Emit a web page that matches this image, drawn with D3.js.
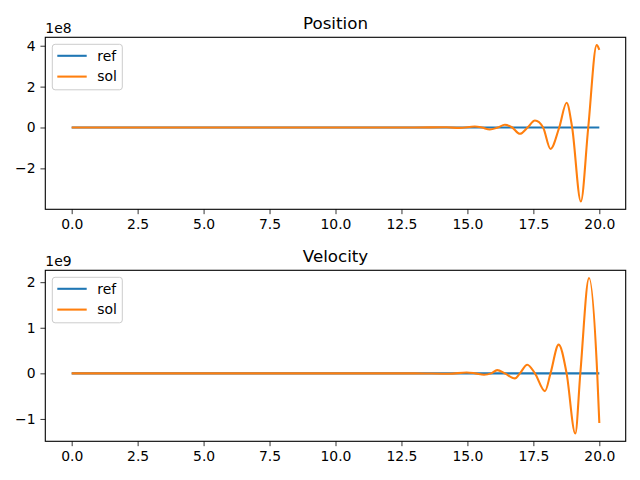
<!DOCTYPE html>
<html>
<head>
<meta charset="utf-8">
<script src="https://cdn.jsdelivr.net/npm/d3@7"></script>
<style>
  body { margin: 0; background: #fff; }
  svg { display: block; font-family: "DejaVu Sans", sans-serif; }
</style>
</head>
<body>
<svg id="chart" width="640" height="480"></svg>
<script>
// Reference solution (flat zero)
const refTime = [0, 5, 10, 15, 20]
const refPosition = [0, 0, 0, 0, 0]
const refVelocity = [0, 0, 0, 0, 0]

// Numerical solution, position
const solPosTime = [0, 5, 10, 13, 14.2, 14.7, 15.28, 15.55, 15.85, 16.15, 16.42, 16.7, 16.99,
  17.28, 17.56, 17.87, 18.15, 18.48, 18.76, 18.97, 19.3, 19.58, 19.9, 20]
const solPosition = [0, 0, 0, 0, 0.01e8, -0.02e8, 0.05e8, 0, -0.1e8, 0, 0.13e8, 0, -0.31e8,
  0, 0.34e8, 0, -1.05e8, 0, 1.21e8, 0, -3.62e8, 0, 4.03e8, 3.8e8]

// Numerical solution, velocity
const solVelTime = [0, 5, 10, 13, 14.3, 14.97, 15.3, 15.63, 15.9, 16.13, 16.42, 16.8, 16.99,
  17.27, 17.56, 17.94, 18.15, 18.46, 18.76, 19.09, 19.28, 19.61, 19.92, 20]
const solVelocity = [0, 0, 0, 0, -0.01e9, 0.02e9, 0, -0.03e9, 0, 0.07e9, 0, -0.11e9, 0,
  0.19e9, 0, -0.39e9, 0, 0.63e9, 0, -1.32e9, 0, 2.09e9, 0, -1.09e9]

const xTicks = [0, 2.5, 5, 7.5, 10, 12.5, 15, 17.5, 20]
const posTicks = [-2e8, 0, 2e8, 4e8]
const velTicks = [-1e9, 0, 1e9, 2e9]

const legendNames = ["ref", "sol"]
const colours = ["#1f77b4", "#ff7f0e"]

const svg = d3.select("#chart")
const fontSize = 13.9
const tickLen = 4.86

let x = d3.scaleLinear()
  .domain([-1, 21])
  .range([45.3, 625.7])

function paddedExtent(values) {
  let [lo, hi] = d3.extent(values)
  let pad = (hi - lo) * 0.05
  return [lo - pad, hi + pad]
}

function panel(opts) {
  let { top, bottom, title, exponent, ticks, refY, solX, solY } = opts

  let y = d3.scaleLinear()
    .domain(paddedExtent(refY.concat(solY)))
    .range([bottom, top])

  let g = svg.append("g")

  // x axis
  g.append("g")
    .attr("transform", `translate(0,${bottom})`)
    .call(d3.axisBottom(x)
      .tickValues(xTicks)
      .tickFormat(d3.format(".1f"))
      .tickSizeOuter(0)
      .tickSize(tickLen)
      .tickPadding(tickLen))
    .call(a => a.select(".domain").remove())

  // y axis
  g.append("g")
    .attr("transform", `translate(${x.range()[0]},0)`)
    .call(d3.axisLeft(y)
      .tickValues(ticks)
      .tickFormat(d => d3.format("d")(Math.round(d / Math.pow(10, exponent))))
      .tickSizeOuter(0)
      .tickSize(tickLen)
      .tickPadding(tickLen))
    .call(a => a.select(".domain").remove())

  g.selectAll(".tick line")
    .attr("stroke", "#000")
    .attr("stroke-width", 0.8)
  g.selectAll(".tick text")
    .attr("font-size", fontSize)
    .attr("font-family", "DejaVu Sans")
    .attr("fill", "#000")

  let line = d3.line()
    .x(d => x(d[0]))
    .y(d => y(d[1]))
    .curve(d3.curveMonotoneX)

  g.append("path")
    .datum(d3.zip(refTime, refY))
    .attr("d", line)
    .attr("fill", "none")
    .attr("stroke", colours[0])
    .attr("stroke-width", 2.08)

  g.append("path")
    .datum(d3.zip(solX, solY))
    .attr("d", line)
    .attr("fill", "none")
    .attr("stroke", colours[1])
    .attr("stroke-width", 2.08)
    .attr("stroke-linejoin", "round")

  // spines
  g.append("rect")
    .attr("x", x.range()[0])
    .attr("y", top)
    .attr("width", x.range()[1] - x.range()[0])
    .attr("height", bottom - top)
    .attr("fill", "none")
    .attr("stroke", "#000")
    .attr("stroke-width", 1.1)

  // title and offset text
  g.append("text")
    .attr("x", (x.range()[0] + x.range()[1]) / 2)
    .attr("y", top - 8.3)
    .attr("text-anchor", "middle")
    .attr("font-size", 16.7)
    .text(title)

  g.append("text")
    .attr("x", x.range()[0])
    .attr("y", top - 4)
    .attr("font-size", fontSize)
    .text(`1e${exponent}`)

  // legend
  let lx = x.range()[0] + 7, ly = top + 7
  let legend = g.append("g")
    .attr("transform", `translate(${lx},${ly})`)
  legend.append("rect")
    .attr("width", 70)
    .attr("height", 45.5)
    .attr("rx", 2.8)
    .attr("fill", "#fff")
    .attr("fill-opacity", 0.8)
    .attr("stroke", "#cccccc")
    .attr("stroke-width", 1)
  let entry = legend.selectAll("g.entry")
    .data(legendNames)
    .join("g")
    .attr("class", "entry")
    .attr("transform", (d, i) => `translate(0,${11.5 + i * 20.8})`)
  entry.append("line")
    .attr("x1", 5)
    .attr("x2", 34.4)
    .attr("stroke", (d, i) => colours[i])
    .attr("stroke-width", 2.08)
  entry.append("text")
    .attr("x", 45)
    .attr("dy", "0.35em")
    .attr("font-size", fontSize)
    .text(d => d)
}

panel({
  top: 37.3, bottom: 209.3, title: "Position", exponent: 8, ticks: posTicks,
  refY: refPosition, solX: solPosTime, solY: solPosition
})

panel({
  top: 270.3, bottom: 441.3, title: "Velocity", exponent: 9, ticks: velTicks,
  refY: refVelocity, solX: solVelTime, solY: solVelocity
})
</script>
</body>
</html>
